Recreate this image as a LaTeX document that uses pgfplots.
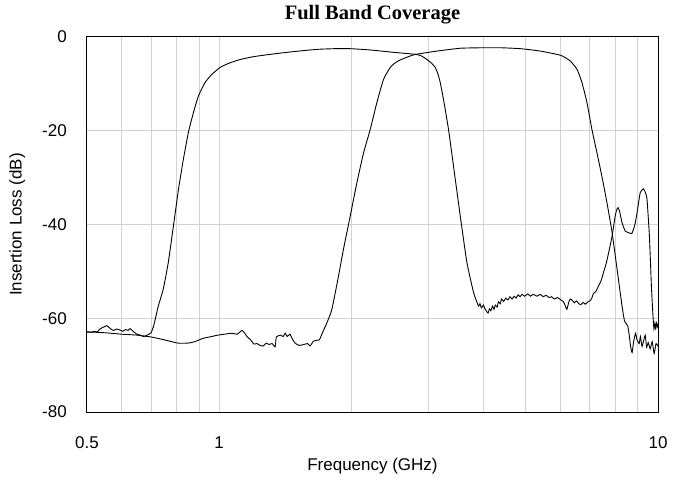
\documentclass[border=0pt]{standalone}
\usepackage{fontspec}
\setmainfont{Liberation Sans}
\newfontfamily\titlefont{Liberation Serif}
\usepackage{pgfplots}
\pgfplotsset{compat=1.18}

\pgfplotstableread{
f db
0.500 -62.9
0.510 -63.0
0.520 -62.8
0.528 -62.9
0.535 -62.3
0.545 -61.9
0.555 -61.6
0.565 -62.2
0.575 -62.6
0.584 -62.3
0.594 -62.5
0.603 -62.8
0.612 -62.4
0.620 -62.6
0.627 -62.2
0.637 -62.8
0.650 -63.4
0.662 -63.6
0.672 -63.9
0.682 -63.7
0.692 -63.4
0.700 -63.1
0.710 -61.5
0.727 -57.4
0.746 -53.8
0.766 -48.1
0.787 -40.3
0.808 -32.5
0.829 -26.1
0.851 -20.4
0.874 -16.1
0.897 -12.6
0.929 -9.7
0.962 -8.0
1.005 -6.5
1.059 -5.5
1.117 -4.8
1.197 -4.2
1.307 -3.7
1.450 -3.2
1.611 -2.77
1.700 -2.6
1.850 -2.48
2.000 -2.5
2.210 -2.77
2.540 -3.34
2.808 -3.7
2.900 -4.1
2.975 -4.8
3.050 -5.6
3.108 -6.5
3.150 -7.8
3.190 -9.7
3.245 -13.3
3.332 -19.7
3.420 -27.5
3.544 -38.2
3.670 -48.1
3.800 -54.5
3.900 -57.4
3.930 -56.9
3.960 -57.8
4.000 -57.2
4.030 -57.9
4.060 -58.4
4.100 -58.9
4.130 -58.0
4.160 -58.4
4.200 -57.4
4.230 -58.1
4.260 -57.2
4.300 -57.6
4.330 -56.5
4.370 -56.9
4.400 -55.9
4.450 -56.4
4.500 -55.7
4.550 -56.1
4.600 -55.4
4.650 -55.9
4.700 -55.3
4.750 -55.7
4.800 -55.0
4.850 -55.4
4.900 -54.9
4.970 -55.3
5.050 -54.8
5.120 -55.3
5.200 -54.9
5.300 -55.3
5.390 -54.9
5.480 -55.4
5.560 -55.1
5.650 -55.6
5.720 -55.4
5.800 -55.9
5.900 -55.6
6.010 -56.1
6.080 -56.4
6.140 -57.2
6.200 -58.1
6.260 -56.6
6.310 -55.9
6.380 -56.2
6.450 -56.7
6.520 -56.3
6.600 -56.9
6.670 -57.1
6.750 -56.6
6.830 -57.0
6.920 -56.5
7.000 -56.3
7.060 -55.8
7.130 -54.7
7.220 -54.3
7.320 -53.1
7.420 -52.0
7.510 -50.3
7.620 -48.3
7.720 -46.0
7.860 -42.5
7.990 -38.2
8.050 -36.9
8.110 -36.4
8.180 -37.3
8.280 -39.6
8.420 -41.4
8.600 -41.8
8.720 -41.9
8.850 -40.2
8.960 -37.5
9.110 -33.2
9.270 -32.4
9.360 -33.2
9.440 -34.6
9.560 -42.5
9.660 -53.1
9.740 -59.5
9.790 -62.3
9.840 -61.0
9.880 -62.2
9.930 -61.0
9.970 -61.8
10.00 -61.2
}\lowband

\pgfplotstableread{
f db
0.500 -62.9
0.550 -63.1
0.600 -63.4
0.650 -63.6
0.700 -64.0
0.750 -64.6
0.805 -65.3
0.850 -65.3
0.880 -65.0
0.918 -64.3
0.950 -64.0
0.994 -63.6
1.030 -63.4
1.068 -63.2
1.100 -63.4
1.126 -62.6
1.140 -63.0
1.160 -64.0
1.180 -64.6
1.200 -65.5
1.220 -65.4
1.240 -65.8
1.262 -65.9
1.280 -65.3
1.300 -65.6
1.320 -65.4
1.342 -66.1
1.350 -64.0
1.380 -63.6
1.400 -63.9
1.414 -63.2
1.430 -63.9
1.450 -63.4
1.470 -64.5
1.490 -65.3
1.520 -65.8
1.560 -65.6
1.590 -65.4
1.612 -65.9
1.640 -64.9
1.670 -64.7
1.693 -64.6
1.714 -63.4
1.760 -61.0
1.807 -58.1
1.871 -51.0
1.920 -45.3
1.990 -38.2
2.060 -31.1
2.134 -24.7
2.210 -19.7
2.288 -14.0
2.370 -9.0
2.454 -6.5
2.520 -5.5
2.586 -4.9
2.725 -4.05
2.808 -3.7
3.135 -3.0
3.544 -2.4
3.940 -2.3
4.400 -2.3
4.870 -2.5
5.390 -3.0
6.000 -3.9
6.310 -5.1
6.540 -6.9
6.710 -9.7
6.890 -14.0
7.070 -19.7
7.260 -24.7
7.450 -29.7
7.650 -35.3
7.860 -41.7
8.070 -49.6
8.280 -57.4
8.390 -60.6
8.530 -61.6
8.600 -63.6
8.660 -66.0
8.730 -67.3
8.800 -65.0
8.890 -63.2
8.950 -64.5
9.060 -65.4
9.120 -63.9
9.200 -66.0
9.350 -63.6
9.420 -66.2
9.500 -65.2
9.600 -66.5
9.700 -65.0
9.800 -67.5
9.900 -65.4
10.00 -66.0
}\highband

\begin{document}
\begin{tikzpicture}
\begin{axis}[
  name=ax,
  scale only axis,
  width=571bp, height=375bp,
  xmode=log,
  xmin=0.5, xmax=10, ymin=-80, ymax=0,
  xtick={0.5,1,10},
  xticklabels={0.5,1,10},
  minor xtick={0.6,0.7,0.8,0.9,2,3,4,5,6,7,8,9},
  ytick={-80,-60,-40,-20,0},
  yticklabels={-80,-60,-40,-20,0},
  xmajorgrids, xminorgrids, ymajorgrids,
  grid style={gray!35, line width=1bp},
  minor grid style={gray!35, line width=1bp},
  major tick length=0pt, minor tick length=0pt,
  axis line style={black, line width=1bp},
  tick label style={font=\fontsize{17bp}{20bp}\selectfont},
  yticklabel style={anchor=east, inner sep=0pt, xshift=-20bp},
  xticklabel style={anchor=north, inner sep=0pt, yshift=-24.5bp},
  xlabel={Frequency (GHz)},
  ylabel={Insertion Loss (dB)},
  label style={font=\fontsize{17bp}{20bp}\selectfont},
  xlabel style={at={(axis description cs:0.5,-0.1573)}, anchor=base, inner sep=0pt},
  ylabel style={at={(axis description cs:-0.1147,0.5)}, rotate=0, anchor=base, inner sep=0pt},
  title={Full Band Coverage},
  title style={at={(axis description cs:0.5,1.032)}, anchor=base, inner sep=0pt,
    font=\titlefont\bfseries\fontsize{20.5bp}{24bp}\selectfont},
]
\addplot[black, line width=0.9bp, smooth, tension=0.3] table[x=f, y=db] {\lowband};
\addplot[black, line width=0.9bp, smooth, tension=0.3] table[x=f, y=db] {\highband};
\end{axis}
\path ([xshift=-87bp,yshift=-69bp]ax.south west) rectangle ++(681bp,481bp);
\end{tikzpicture}
\end{document}
